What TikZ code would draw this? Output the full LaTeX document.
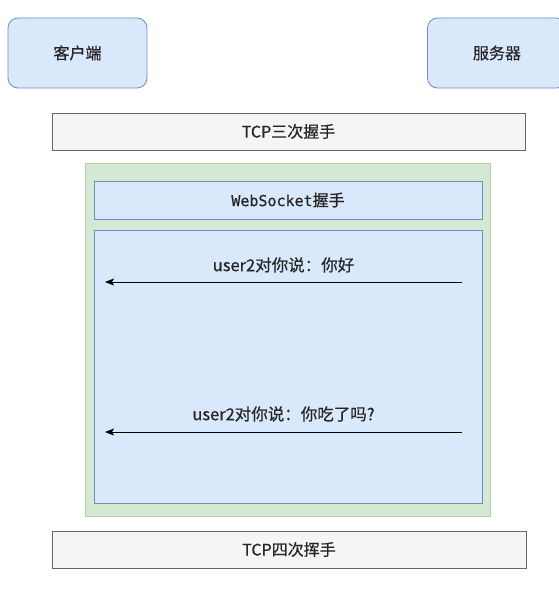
\documentclass[tikz,border=0pt]{standalone}
\usepackage{fontspec}
\setmainfont{Noto Sans CJK SC}[FakeBold=0.6]
\newfontfamily\monofnt{DejaVu Sans Mono}[FakeBold=0.6]
\usetikzlibrary{arrows.meta}
\definecolor{bluefill}{HTML}{DAE8FC}
\definecolor{blueline}{HTML}{6C8EBF}
\definecolor{greenfill}{HTML}{D5E8D4}
\definecolor{greenline}{HTML}{B5CFA3}
\definecolor{grayfill}{HTML}{F5F5F5}
\definecolor{grayline}{HTML}{666666}
\definecolor{txt}{HTML}{262626}
\definecolor{life}{HTML}{CCCCCC}
\pgfdeclarelayer{bg}
\pgfsetlayers{bg,main}
\tikzset{
  actor/.style={draw=blueline, fill=bluefill, rounded corners=10pt, minimum width=139pt, minimum height=70pt, text=txt, font=\fontsize{16}{19}\selectfont, line width=0.8pt},
  tcpbox/.style={draw=grayline, fill=grayfill, minimum height=37pt, text=txt, font=\fontsize{16}{19}\selectfont, line width=0.8pt},
  grouparea/.style={draw=greenline, fill=greenfill, line width=1pt},
  bluebox/.style={draw=blueline, fill=bluefill, line width=0.8pt, text=txt},
  lifeline/.style={draw=life, line width=0.8pt},
  msg/.style={draw=black, line width=0.9pt, -{Stealth[length=9pt,width=7pt,inset=2pt]}},
  msglabel/.style={text=txt, font=\fontsize{16.5}{19}\selectfont, inner sep=0pt}
}
\begin{document}
\begin{tikzpicture}[x=1pt,y=-1pt]
\clip (0,0) rectangle (559,594);
\fill[white] (0,0) rectangle (559,594);
\node[actor] (client) at (77.5,53) {客户端};
\node[actor] (server) at (497,53) {服务器};
\coordinate (cend) at (77,585);
\coordinate (send) at (497,585);
\begin{pgfonlayer}{bg}
\draw[lifeline] (client.south) -- (cend);
\draw[lifeline] (server.south) -- (send);
\end{pgfonlayer}
\node[tcpbox, minimum width=473pt] (tcp3) at (288.5,131.5) {TCP三次握手};
\node[grouparea, minimum width=405pt, minimum height=353pt] (grp) at (287.5,339.5) {};
\node[bluebox, minimum width=388pt, minimum height=38pt, font={\fontsize{16}{19}\selectfont}] (ws) at (288,200) {{\monofnt\fontsize{15}{19}\selectfont WebSocket}握手};
\node[bluebox, minimum width=388pt, minimum height=273pt] (msgs) at (288,366.5) {};
\coordinate (a1s) at (462,282);
\coordinate (a1e) at (105,282);
\coordinate (a2s) at (462,432);
\coordinate (a2e) at (105,432);
\draw[msg] (a1s) -- node[msglabel, above=9pt] (l1) {user2对你说：你好} (a1e);
\draw[msg] (a2s) -- node[msglabel, above=10pt] (l2) {user2对你说：你吃了吗?} (a2e);
\node[tcpbox, minimum width=474pt] (tcp4) at (289,549.5) {TCP四次挥手};
\end{tikzpicture}
\end{document}
